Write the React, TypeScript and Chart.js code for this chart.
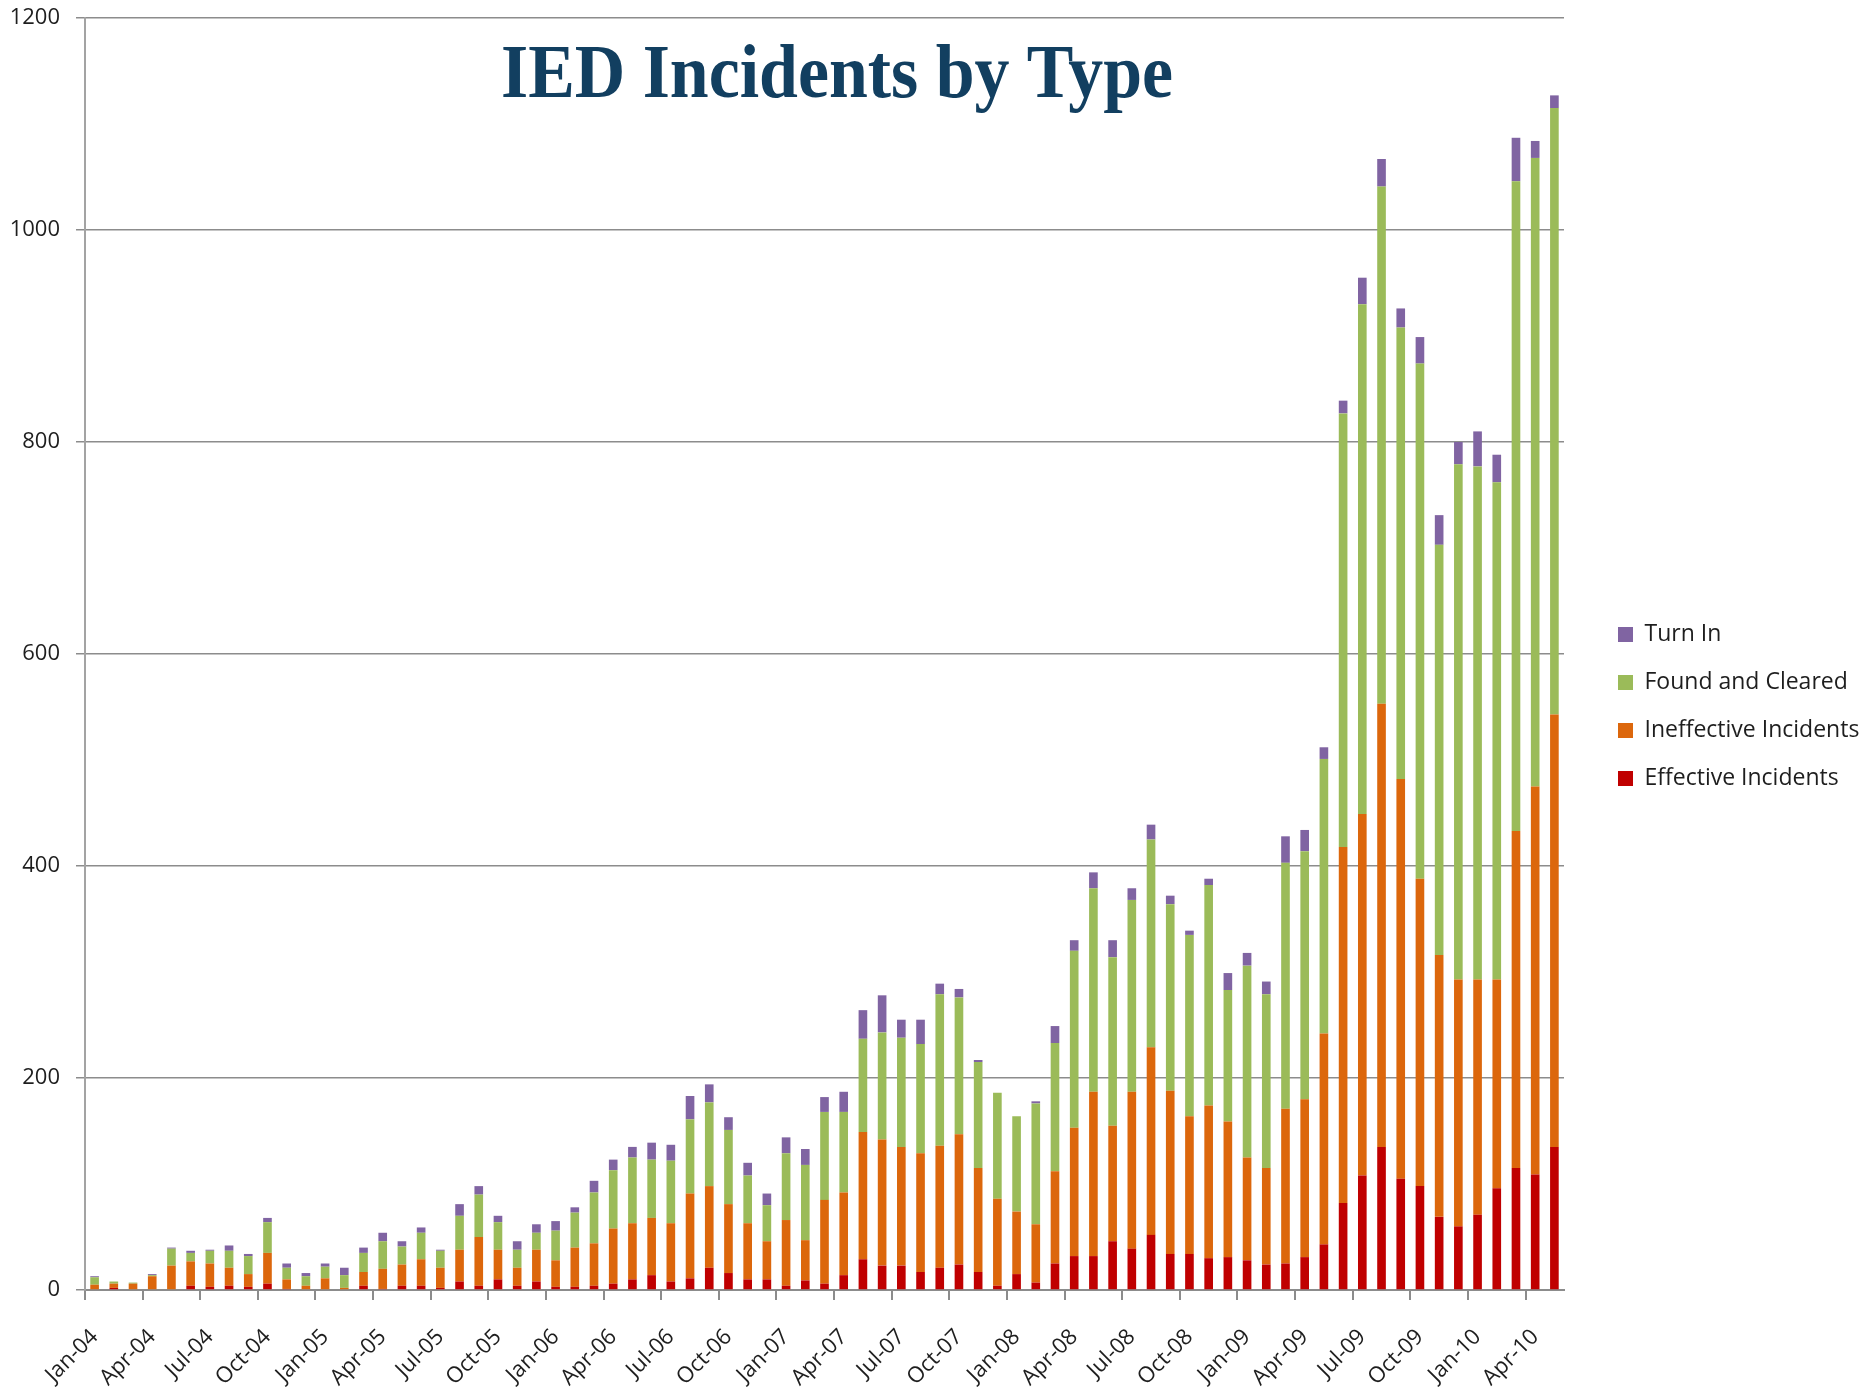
import { useEffect, useRef } from 'react';
import { Chart, registerables } from 'chart.js';

Chart.register(...registerables);

const TITLE = 'IED Incidents by Type';

const months = [
  'Jan-04', 'Feb-04', 'Mar-04', 'Apr-04', 'May-04', 'Jun-04', 'Jul-04', 'Aug-04', 'Sep-04', 'Oct-04', 'Nov-04', 'Dec-04',
  'Jan-05', 'Feb-05', 'Mar-05', 'Apr-05', 'May-05', 'Jun-05', 'Jul-05', 'Aug-05', 'Sep-05', 'Oct-05', 'Nov-05', 'Dec-05',
  'Jan-06', 'Feb-06', 'Mar-06', 'Apr-06', 'May-06', 'Jun-06', 'Jul-06', 'Aug-06', 'Sep-06', 'Oct-06', 'Nov-06', 'Dec-06',
  'Jan-07', 'Feb-07', 'Mar-07', 'Apr-07', 'May-07', 'Jun-07', 'Jul-07', 'Aug-07', 'Sep-07', 'Oct-07', 'Nov-07', 'Dec-07',
  'Jan-08', 'Feb-08', 'Mar-08', 'Apr-08', 'May-08', 'Jun-08', 'Jul-08', 'Aug-08', 'Sep-08', 'Oct-08', 'Nov-08', 'Dec-08',
  'Jan-09', 'Feb-09', 'Mar-09', 'Apr-09', 'May-09', 'Jun-09', 'Jul-09', 'Aug-09', 'Sep-09', 'Oct-09', 'Nov-09', 'Dec-09',
  'Jan-10', 'Feb-10', 'Mar-10', 'Apr-10', 'May-10',
];

const effective = [
  0, 2, 0, 0, 0, 4, 3, 4, 3, 6, 1, 0,
  0, 0, 4, 1, 4, 4, 2, 8, 4, 10, 4, 8,
  3, 3, 4, 6, 10, 14, 8, 11, 21, 16, 10, 10,
  4, 9, 6, 14, 29, 23, 23, 17, 21, 24, 17, 4,
  15, 7, 25, 32, 32, 46, 39, 52, 34, 34, 30, 31,
  28, 24, 25, 31, 43, 82, 108, 135, 105, 98, 69, 60,
  71, 96, 115, 109, 135,
];

const ineffective = [
  5, 4, 6, 13, 23, 23, 22, 17, 12, 29, 9, 4,
  11, 2, 13, 19, 20, 25, 19, 30, 46, 28, 17, 30,
  25, 37, 40, 52, 53, 54, 55, 80, 77, 65, 53, 36,
  62, 38, 79, 78, 120, 119, 112, 112, 115, 123, 98, 82,
  59, 55, 87, 121, 155, 109, 148, 177, 154, 130, 144, 128,
  97, 91, 146, 149, 199, 336, 341, 418, 377, 290, 247, 233,
  222, 197, 318, 366, 408,
];

const foundCleared = [
  7, 2, 1, 1, 16, 8, 12, 16, 17, 29, 11, 9,
  11, 12, 18, 26, 17, 25, 16, 32, 40, 26, 17, 16,
  28, 33, 48, 55, 62, 55, 59, 70, 79, 70, 45, 34,
  63, 71, 83, 76, 88, 101, 103, 103, 143, 129, 100, 100,
  90, 114, 121, 167, 192, 159, 181, 196, 176, 171, 208, 124,
  181, 164, 232, 234, 259, 409, 481, 488, 426, 486, 387, 486,
  484, 469, 613, 593, 572,
];

const turnIn = [
  1, 0, 0, 1, 1, 2, 1, 5, 2, 4, 4, 3,
  3, 7, 5, 8, 5, 5, 1, 11, 8, 6, 8, 8,
  9, 5, 11, 10, 10, 16, 15, 22, 17, 12, 12, 11,
  15, 15, 14, 19, 27, 35, 17, 23, 10, 8, 2, 0,
  0, 2, 16, 10, 15, 16, 11, 14, 8, 4, 6, 16,
  12, 12, 25, 20, 11, 12, 25, 26, 18, 25, 28, 21,
  33, 26, 41, 16, 12,
];

const seriesNames = ['Effective Incidents', 'Ineffective Incidents', 'Found and Cleared', 'Turn In'];
const seriesColors = ['#C00000', '#DC670C', '#9BBB59', '#8064A2'];

const Y_MAX = 1200;
const Y_STEP = 200;

const FONT = '"Open Sans", "DejaVu Sans", sans-serif';
const GRID = '#8c8c8c';

export default function App() {
  const ref = useRef<HTMLCanvasElement>(null);

  useEffect(() => {
    if (!ref.current) return;

    const titlePlugin = {
      id: 'overlayTitle',
      afterDraw(chart: any) {
        const ctx = chart.ctx;
        ctx.save();
        ctx.font = 'bold 76px "Liberation Serif", "DejaVu Serif", serif';
        const w = ctx.measureText(TITLE).width;
        ctx.translate(837, 97);
        ctx.scale(672 / w, 1);
        ctx.textAlign = 'center';
        ctx.textBaseline = 'alphabetic';
        ctx.fillStyle = '#123F60';
        ctx.fillText(TITLE, 0, 0);
        ctx.restore();
      },
    };

    const values = [effective, ineffective, foundCleared, turnIn];

    const chart = new Chart(ref.current, {
      type: 'bar',
      data: {
        labels: months,
        datasets: values.map((d, i) => ({
          label: seriesNames[i],
          data: d,
          backgroundColor: seriesColors[i],
          borderWidth: 0,
          categoryPercentage: 1,
          barPercentage: 0.45,
        })),
      },
      options: {
        responsive: false,
        animation: false,
        devicePixelRatio: 1,
        layout: { padding: { top: 18, left: 0, right: 0, bottom: 0 } },
        font: { family: FONT },
        scales: {
          x: {
            stacked: true,
            offset: true,
            grid: {
              display: true,
              drawOnChartArea: false,
              drawTicks: true,
              tickLength: 10,
              offset: true,
              lineWidth: 2,
              color: (ctx: any) => (ctx.index % 3 === 0 ? GRID : 'rgba(0,0,0,0)'),
            },
            border: { display: true, color: GRID, width: 2 },
            ticks: {
              autoSkip: false,
              minRotation: 45,
              maxRotation: 45,
              padding: 24,
              color: '#1e1e1e',
              font: { family: FONT, size: 22 },
              callback: (_v: any, idx: number) => (idx % 3 === 0 ? months[idx] : ''),
            },
            afterFit: (s: any) => {
              s.height = 99;
              s.paddingLeft = 0;
              s.paddingRight = 0;
            },
          },
          y: {
            stacked: true,
            min: 0,
            max: Y_MAX,
            grid: {
              color: GRID,
              lineWidth: 1.5,
              tickLength: 9,
              drawTicks: true,
            },
            border: { display: true, color: '#a3a3a3', width: 2 },
            ticks: {
              stepSize: Y_STEP,
              padding: 16,
              color: '#1e1e1e',
              font: { family: FONT, size: 22 },
              callback: (v: any) => String(v),
            },
            afterFit: (s: any) => {
              s.width = 85;
              s.paddingTop = 0;
              s.paddingBottom = 0;
            },
          },
          y2: {
            position: 'right',
            display: true,
            grid: { display: false, drawTicks: false },
            border: { display: false },
            ticks: { display: false },
            afterFit: (s: any) => {
              const lw = s.chart.legend ? s.chart.legend.width : 0;
              s.width = Math.max(0, s.chart.width - lw - 1564);
              s.paddingTop = 0;
              s.paddingBottom = 0;
            },
          },
        },
        plugins: {
          title: { display: false },
          tooltip: { enabled: false },
          legend: {
            display: true,
            position: 'right',
            align: 'start',
            reverse: true,
            maxWidth: 268,
            title: {
              display: true,
              text: ' ',
              font: { size: 10 },
              padding: { top: 568, bottom: 0 },
            },
            labels: {
              boxWidth: 15,
              boxHeight: 15,
              padding: 25,
              color: '#1e1e1e',
              font: { family: FONT, size: 23 },
            },
          },
        },
      },
      plugins: [titlePlugin],
    } as any);

    return () => chart.destroy();
  }, []);

  return (
    <div style={{ position: 'fixed', left: 0, top: 0, width: 1861, height: 1389, background: '#ffffff' }}>
      <canvas ref={ref} width={1861} height={1389} style={{ display: 'block', width: 1861, height: 1389 }} />
    </div>
  );
}
